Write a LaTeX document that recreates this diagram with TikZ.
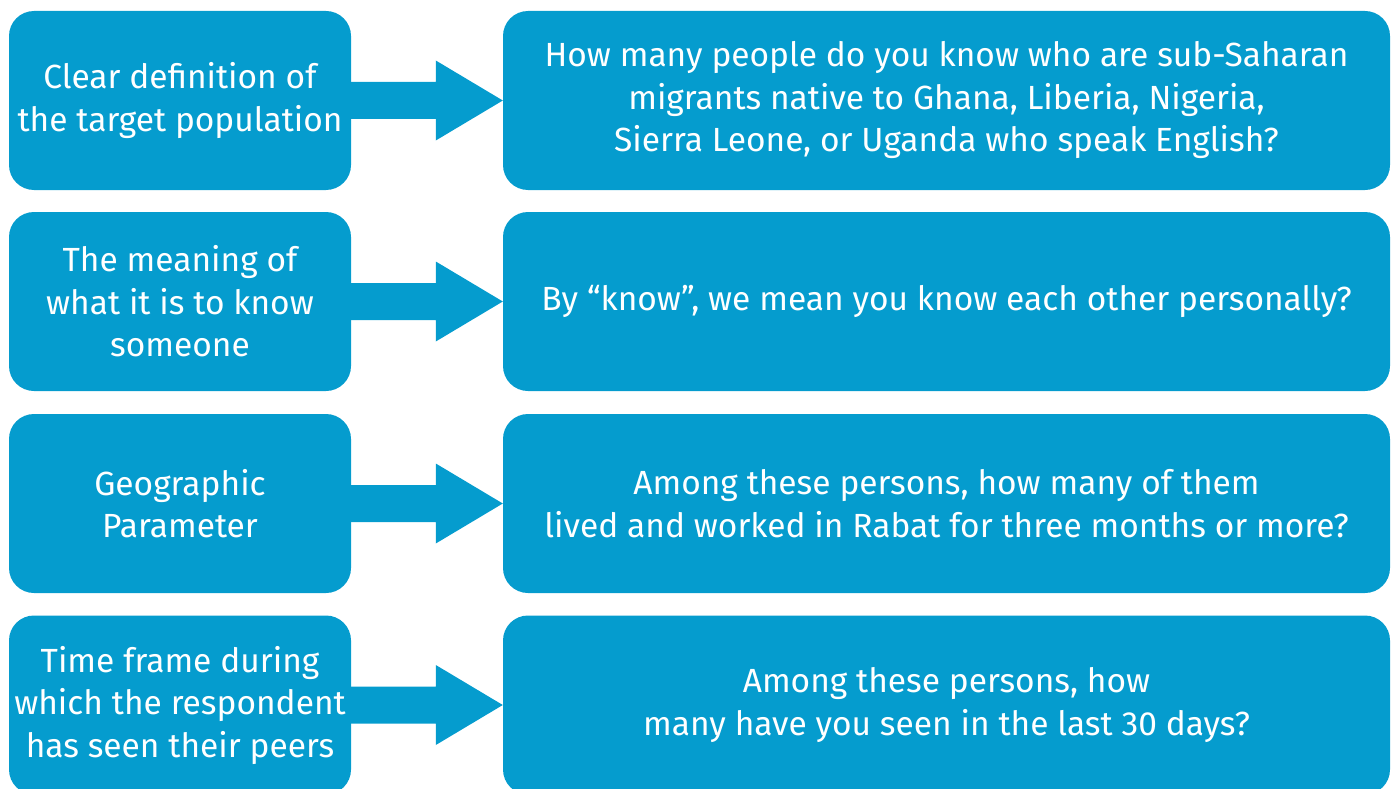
\documentclass[tikz,border=0pt]{standalone}
\usepackage{fontspec}
\setmainfont{Fira Sans}
\usetikzlibrary{calc}
\definecolor{boxblue}{RGB}{5,156,206}
\tikzset{
  lbox/.style={fill=boxblue, rounded corners=25pt, minimum width=342pt, minimum height=179pt,
    inner sep=0pt, text=white, align=center, font=\fontsize{33.5}{42.5}\selectfont},
  rbox/.style={lbox, minimum width=887pt},
  fatarrow/.style={fill=boxblue}
}
\begin{document}
\begin{tikzpicture}[x=1pt,y=-1pt]
\useasboundingbox (0,0) rectangle (1391,789);
\begin{scope}
\clip (0,0) rectangle (1391,789);
\node[lbox] (l1) at (180,100.5) {Clear definition of\\the target population};
\node[lbox] (l2) at (180,301.5) {The meaning of\\what it is to know\\someone};
\node[lbox] (l3) at (180,503.5) {Geographic\\Parameter};
\node[lbox] (l4) at (180,705) {Time frame during\\which the respondent\\has seen their peers};
\node[rbox] (r1) at (946.5,100.5) {How many people do you know who are sub-Saharan\\migrants native to Ghana, Liberia, Nigeria,\\Sierra Leone, or Uganda who speak English?};
\node[rbox] (r2) at (946.5,301.5) {By “know”, we mean you know each other personally?};
\node[rbox] (r3) at (946.5,503.5) {Among these persons, how many of them\\lived and worked in Rabat for three months or more?};
\node[rbox] (r4) at (946.5,705) {Among these persons, how\\many have you seen in the last 30 days?};
\foreach \i in {1,2,3,4}{
  \fill[fatarrow] ([xshift=-1pt,yshift=18.5pt]l\i.east) -- ([xshift=-67pt,yshift=18.5pt]r\i.west)
    -- ([xshift=-67pt,yshift=40pt]r\i.west) -- (r\i.west)
    -- ([xshift=-67pt,yshift=-40pt]r\i.west) -- ([xshift=-67pt,yshift=-18.5pt]r\i.west)
    -- ([xshift=-1pt,yshift=-18.5pt]l\i.east) -- cycle;
}
\end{scope}
\end{tikzpicture}
\end{document}
